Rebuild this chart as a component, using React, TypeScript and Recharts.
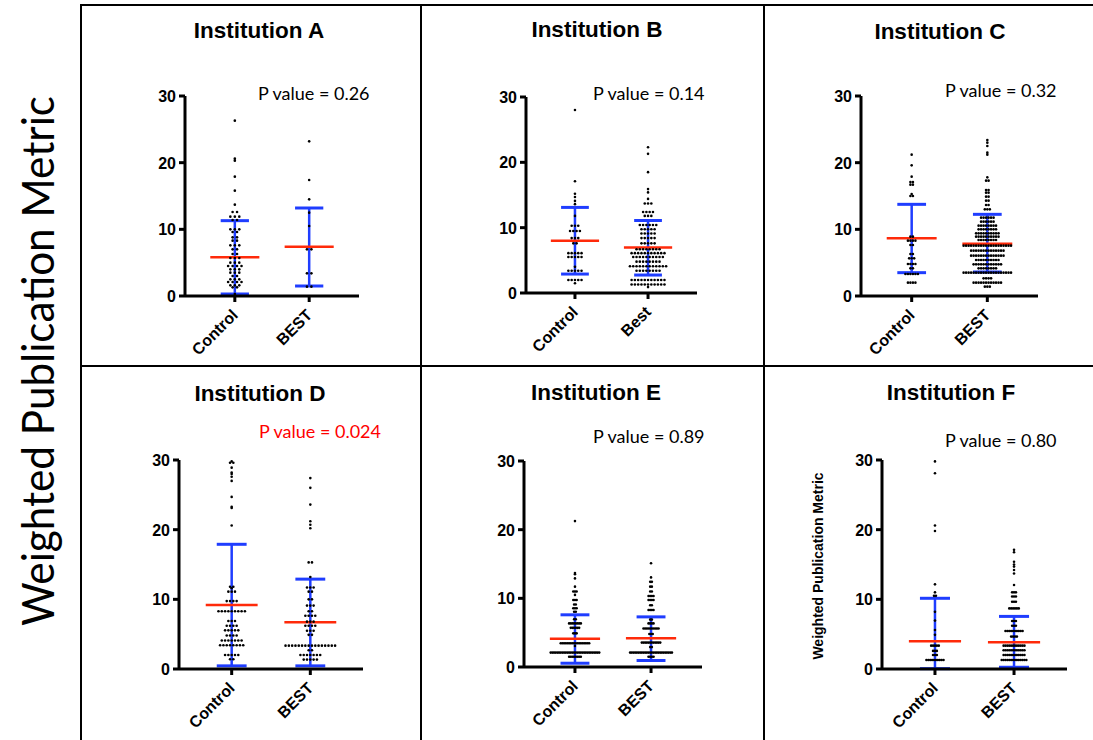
import React from "react";
import { ScatterChart, Scatter, XAxis, YAxis, ReferenceLine } from "recharts";

// [value, number of dots at that value]
type Row = [number, number];

const yTicks = [0, 10, 20, 30];
const groupTicks = [1, 2];
const labelsUpper = ["Control", "BEST"];
const labelsMixed = ["Control", "Best"];
const titles = ["Institution A", "Institution B", "Institution C", "Institution D", "Institution E", "Institution F"];
const pValues = ["P value = 0.26", "P value = 0.14", "P value = 0.32", "P value = 0.024", "P value = 0.89", "P value = 0.80"];
const axisTitle = "Weighted Publication Metric";

// Institution A
const aControl: Row[] = [[26.3, 1], [20.6, 1], [20.3, 1], [17.9, 1], [15.8, 1], [13.7, 1], [12.6, 2], [11.9, 3], [11.4, 2], [10.0, 3], [9.6, 2], [8.8, 2], [8.3, 2], [7.6, 3], [7.0, 2], [6.3, 2], [5.7, 3], [5.0, 3], [4.5, 4], [4.0, 3], [3.5, 3], [3.0, 2], [2.5, 3], [2.1, 4], [1.6, 3], [1.3, 2], [0.3, 1]];
const aBest: Row[] = [[23.2, 1], [17.4, 1], [14.5, 1], [12.5, 1], [10.5, 1], [7.0, 2], [3.4, 2], [1.4, 2]];
const aMean = [5.8, 7.4];
const aLow = [0.3, 1.5];
const aHigh = [11.3, 13.2];

// Institution B
const bControl: Row[] = [[28.0, 1], [17.1, 1], [15.2, 1], [14.7, 1], [14.1, 1], [13.6, 1], [11.8, 1], [10.3, 3], [9.5, 4], [8.4, 3], [7.6, 2], [6.1, 5], [5.5, 5], [4.0, 1], [3.4, 5], [2.0, 5], [1.5, 1]];
const bBest: Row[] = [[22.3, 1], [21.3, 1], [18.5, 1], [15.9, 1], [15.4, 1], [14.4, 1], [13.7, 3], [12.4, 4], [11.8, 3], [10.4, 6], [9.75, 5], [9.1, 5], [8.4, 5], [7.6, 5], [6.7, 8], [6.1, 11], [5.5, 10], [4.8, 8], [4.1, 12], [3.4, 8], [2.0, 11], [1.3, 11], [0.9, 1]];
const bMean = [8.0, 6.95];
const bLow = [2.9, 2.75];
const bHigh = [13.1, 11.1];

// Institution C
const cControl: Row[] = [[21.2, 1], [19.6, 1], [17.9, 1], [17.1, 2], [16.7, 2], [15.3, 1], [15.0, 2], [8.9, 2], [8.3, 4], [7.65, 2], [6.3, 2], [5.65, 3], [4.8, 4], [4.15, 2], [3.3, 6], [2.0, 4]];
const cBest: Row[] = [[23.4, 1], [23.0, 1], [22.5, 1], [21.5, 1], [21.2, 1], [17.8, 1], [17.3, 2], [15.9, 2], [15.5, 2], [14.9, 2], [14.3, 2], [13.65, 2], [13.0, 3], [11.75, 6], [11.15, 6], [10.55, 8], [10.0, 8], [9.4, 10], [8.9, 10], [8.4, 8], [7.55, 20], [6.8, 14], [6.05, 14], [5.4, 10], [4.75, 12], [4.15, 8], [3.5, 20], [2.65, 4], [2.0, 12], [1.4, 3]];
const cMean = [8.65, 7.85];
const cLow = [3.5, 3.6];
const cHigh = [13.75, 12.25];

// Institution D
const dControl: Row[] = [[29.8, 1], [29.6, 2], [28.9, 1], [28.2, 1], [28.0, 1], [27.6, 1], [27.0, 1], [24.7, 1], [23.3, 1], [23.1, 1], [20.6, 1], [11.8, 2], [11.6, 1], [11.1, 3], [9.75, 4], [8.3, 9], [6.9, 3], [6.2, 4], [5.55, 5], [4.8, 4], [4.1, 7], [3.4, 8], [2.0, 5], [1.4, 2]];
const dBest: Row[] = [[27.4, 1], [26.0, 1], [23.6, 1], [21.2, 1], [20.7, 1], [20.2, 1], [15.3, 2], [13.2, 1], [11.7, 3], [11.1, 2], [10.0, 2], [9.1, 3], [8.3, 2], [7.65, 4], [6.8, 3], [6.2, 4], [5.5, 3], [4.9, 2], [3.35, 16], [2.7, 2], [2.0, 7], [1.35, 5]];
const dMean = [9.2, 6.7];
const dLow = [0.45, 0.45];
const dHigh = [17.9, 12.9];

// Institution E
const eControl: Row[] = [[21.25, 1], [13.7, 1], [13.5, 1], [12.9, 1], [11.7, 1], [11.0, 3], [10.5, 1], [9.75, 3], [9.1, 2], [8.55, 3], [8.05, 2], [6.95, 2], [6.35, 8], [5.7, 6], [4.9, 3], [3.45, 18], [3.05, 1], [2.1, 30], [1.5, 8]];
const eBest: Row[] = [[15.1, 1], [13.05, 1], [12.4, 2], [11.7, 2], [11.0, 2], [10.35, 4], [9.75, 4], [9.0, 2], [8.3, 4], [6.9, 2], [6.35, 4], [5.6, 10], [4.8, 3], [3.55, 12], [2.9, 2], [2.1, 26], [1.5, 4]];
const eMean = [4.1, 4.2];
const eLow = [0.55, 0.95];
const eHigh = [7.6, 7.3];

// Institution F
const fControl: Row[] = [[29.8, 1], [28.1, 1], [20.6, 1], [19.8, 1], [12.15, 1], [11.0, 1], [10.5, 2], [8.2, 1], [6.95, 1], [5.6, 1], [4.9, 1], [3.35, 5], [2.6, 3], [2.0, 3], [1.3, 10]];
const fBest: Row[] = [[17.1, 1], [16.75, 1], [15.4, 1], [15.0, 1], [14.7, 1], [14.2, 1], [13.7, 1], [12.05, 1], [11.0, 3], [10.4, 3], [9.65, 3], [8.7, 6], [6.9, 3], [6.2, 3], [5.45, 10], [4.65, 4], [3.35, 12], [2.7, 12], [2.0, 12], [1.3, 14]];
const fMean = [4.0, 3.85];
const fLow = [0.05, 0.25];
const fHigh = [10.15, 7.55];

const ARIAL = "'Liberation Sans', Arial, sans-serif";
const CALIBRI = "Lato, 'Open Sans', sans-serif";
const BLUE = "#1f3dff";
const RED = "#ff2a0a";

const Y_AXIS_W = 60;
const PAD_TOP = 12;
const PAD_RIGHT = 12;
const X_AXIS_H = 70;
const MEAN_HALF = 0.33;
const CAP_HALF = 0.19;

interface Box { left: number; right: number; top: number; bottom: number }

interface PanelDef {
  title: string;
  pText: string;
  pColor: string;
  labels: string[];
  control: Row[];
  best: Row[];
  mean: number[];
  low: number[];
  high: number[];
  box: Box;
  step: number;
  titleX: number;
  titleY: number;
  pX: number;
  pY: number;
}

const panels: PanelDef[] = [
  { title: titles[0], pText: pValues[0], pColor: "#000", labels: labelsUpper, control: aControl, best: aBest, mean: aMean, low: aLow, high: aHigh, box: { left: 185, right: 359, top: 96, bottom: 296 }, step: 0.06, titleX: 259, titleY: 38, pX: 258, pY: 100 },
  { title: titles[1], pText: pValues[1], pColor: "#000", labels: labelsMixed, control: bControl, best: bBest, mean: bMean, low: bLow, high: bHigh, box: { left: 526, right: 697, top: 97, bottom: 293 }, step: 0.045, titleX: 597, titleY: 37, pX: 593, pY: 100 },
  { title: titles[2], pText: pValues[2], pColor: "#000", labels: labelsUpper, control: cControl, best: cBest, mean: cMean, low: cLow, high: cHigh, box: { left: 861, right: 1038, top: 96, bottom: 296 }, step: 0.033, titleX: 940, titleY: 39, pX: 945, pY: 97 },
  { title: titles[3], pText: pValues[3], pColor: "#ff0000", labels: labelsUpper, control: dControl, best: dBest, mean: dMean, low: dLow, high: dHigh, box: { left: 179, right: 363, top: 460, bottom: 669 }, step: 0.042, titleX: 260, titleY: 401, pX: 259, pY: 438 },
  { title: titles[4], pText: pValues[4], pColor: "#000", labels: labelsUpper, control: eControl, best: eBest, mean: eMean, low: eLow, high: eHigh, box: { left: 524, right: 702, top: 461, bottom: 667 }, step: 0.022, titleX: 596, titleY: 400, pX: 593, pY: 443 },
  { title: titles[5], pText: pValues[5], pColor: "#000", labels: labelsUpper, control: fControl, best: fBest, mean: fMean, low: fLow, high: fHigh, box: { left: 882, right: 1067, top: 460, bottom: 669 }, step: 0.024, titleX: 951, titleY: 400, pX: 945, pY: 447 },
];

// lay dots of equal value side by side around the group centre
function spread(rows: Row[], center: number, step: number) {
  const pts: { x: number; y: number }[] = [];
  rows.forEach(([v, n]) => {
    for (let i = 0; i < n; i++) pts.push({ x: center + (i - (n - 1) / 2) * step, y: v });
  });
  return pts;
}

const renderDot = (props: any) => <circle cx={props.cx} cy={props.cy} r={1.3} fill="#000" />;

const XTick = (props: any) => {
  const { x, y, payload, labels } = props;
  return (
    <g transform={`translate(${x + 4},${y + 12})`}>
      <text transform="rotate(-45)" textAnchor="end" fontFamily={ARIAL} fontWeight={700} fontSize={16} fill="#000">
        {labels[payload.value - 1]}
      </text>
    </g>
  );
};

const YTick = (props: any) => {
  const { x, y, payload } = props;
  return (
    <text x={x - 1} y={y} dy={6} textAnchor="end" fontFamily={ARIAL} fontWeight={700} fontSize={16} fill="#000">
      {payload.value}
    </text>
  );
};

function Panel({ p }: { p: PanelDef }) {
  const w = p.box.right - p.box.left + Y_AXIS_W + PAD_RIGHT;
  const h = p.box.bottom - p.box.top + PAD_TOP + X_AXIS_H;
  const groups = [p.control, p.best];
  return (
    <div style={{ position: "absolute", left: p.box.left - Y_AXIS_W, top: p.box.top - PAD_TOP }}>
      <ScatterChart width={w} height={h} margin={{ top: PAD_TOP, right: PAD_RIGHT, bottom: 0, left: 0 }}>
        <XAxis
          type="number"
          dataKey="x"
          domain={[0.33, 2.67]}
          ticks={groupTicks}
          interval={0}
          allowDataOverflow
          height={X_AXIS_H}
          axisLine={{ stroke: "#000", strokeWidth: 3 }}
          tickLine={{ stroke: "#000", strokeWidth: 3 }}
          tickSize={6}
          tick={<XTick labels={p.labels} />}
        />
        <YAxis
          type="number"
          dataKey="y"
          domain={[0, 30]}
          ticks={yTicks}
          interval={0}
          allowDataOverflow
          width={Y_AXIS_W}
          axisLine={{ stroke: "#000", strokeWidth: 3 }}
          tickLine={{ stroke: "#000", strokeWidth: 3 }}
          tickSize={6}
          tick={<YTick />}
        />
        {groups.map((rows, i) => (
          <Scatter key={`s${i}`} data={spread(rows, i + 1, p.step)} shape={renderDot} isAnimationActive={false} />
        ))}
        {groups.map((_, i) => (
          <ReferenceLine key={`v${i}`} ifOverflow="visible" stroke={BLUE} strokeWidth={2.5}
            segment={[{ x: i + 1, y: p.low[i] }, { x: i + 1, y: p.high[i] }]} />
        ))}
        {groups.map((_, i) => (
          <ReferenceLine key={`h${i}`} ifOverflow="visible" stroke={BLUE} strokeWidth={3}
            segment={[{ x: i + 1 - CAP_HALF, y: p.high[i] }, { x: i + 1 + CAP_HALF, y: p.high[i] }]} />
        ))}
        {groups.map((_, i) => (
          <ReferenceLine key={`l${i}`} ifOverflow="visible" stroke={BLUE} strokeWidth={3}
            segment={[{ x: i + 1 - CAP_HALF, y: p.low[i] }, { x: i + 1 + CAP_HALF, y: p.low[i] }]} />
        ))}
        {groups.map((_, i) => (
          <ReferenceLine key={`m${i}`} ifOverflow="visible" stroke={RED} strokeWidth={2.5}
            segment={[{ x: i + 1 - MEAN_HALF, y: p.mean[i] }, { x: i + 1 + MEAN_HALF, y: p.mean[i] }]} />
        ))}
      </ScatterChart>
    </div>
  );
}

export default function App() {
  return (
    <div style={{ position: "absolute", left: 0, top: 0, width: 1093, height: 740, background: "#fff", overflow: "hidden" }}>
      {panels.map((p) => (
        <Panel key={p.title} p={p} />
      ))}
      <svg width={1093} height={740} style={{ position: "absolute", left: 0, top: 0, pointerEvents: "none" }}>
        <g stroke="#000" strokeWidth={2}>
          <line x1={81} y1={4} x2={81} y2={740} />
          <line x1={421} y1={4} x2={421} y2={740} />
          <line x1={764} y1={4} x2={764} y2={740} />
          <line x1={80} y1={5} x2={1093} y2={5} />
          <line x1={80} y1={366} x2={1093} y2={366} />
        </g>
        {panels.map((p) => (
          <g key={p.title}>
            <text x={p.titleX} y={p.titleY} textAnchor="middle" fontFamily={ARIAL} fontWeight={700} fontSize={22.5} fill="#000">
              {p.title}
            </text>
            <text x={p.pX} y={p.pY} fontFamily={CALIBRI} fontSize={18} fill={p.pColor}>
              {p.pText}
            </text>
          </g>
        ))}
        <text transform="translate(54,361) rotate(-90)" textAnchor="middle" fontFamily={CALIBRI} fontSize={44}
          textLength={530} lengthAdjust="spacingAndGlyphs" fill="#000">
          {axisTitle}
        </text>
        <text transform="translate(823,566) rotate(-90)" textAnchor="middle" fontFamily={ARIAL} fontWeight={700} fontSize={14} fill="#000">
          {axisTitle}
        </text>
      </svg>
    </div>
  );
}
